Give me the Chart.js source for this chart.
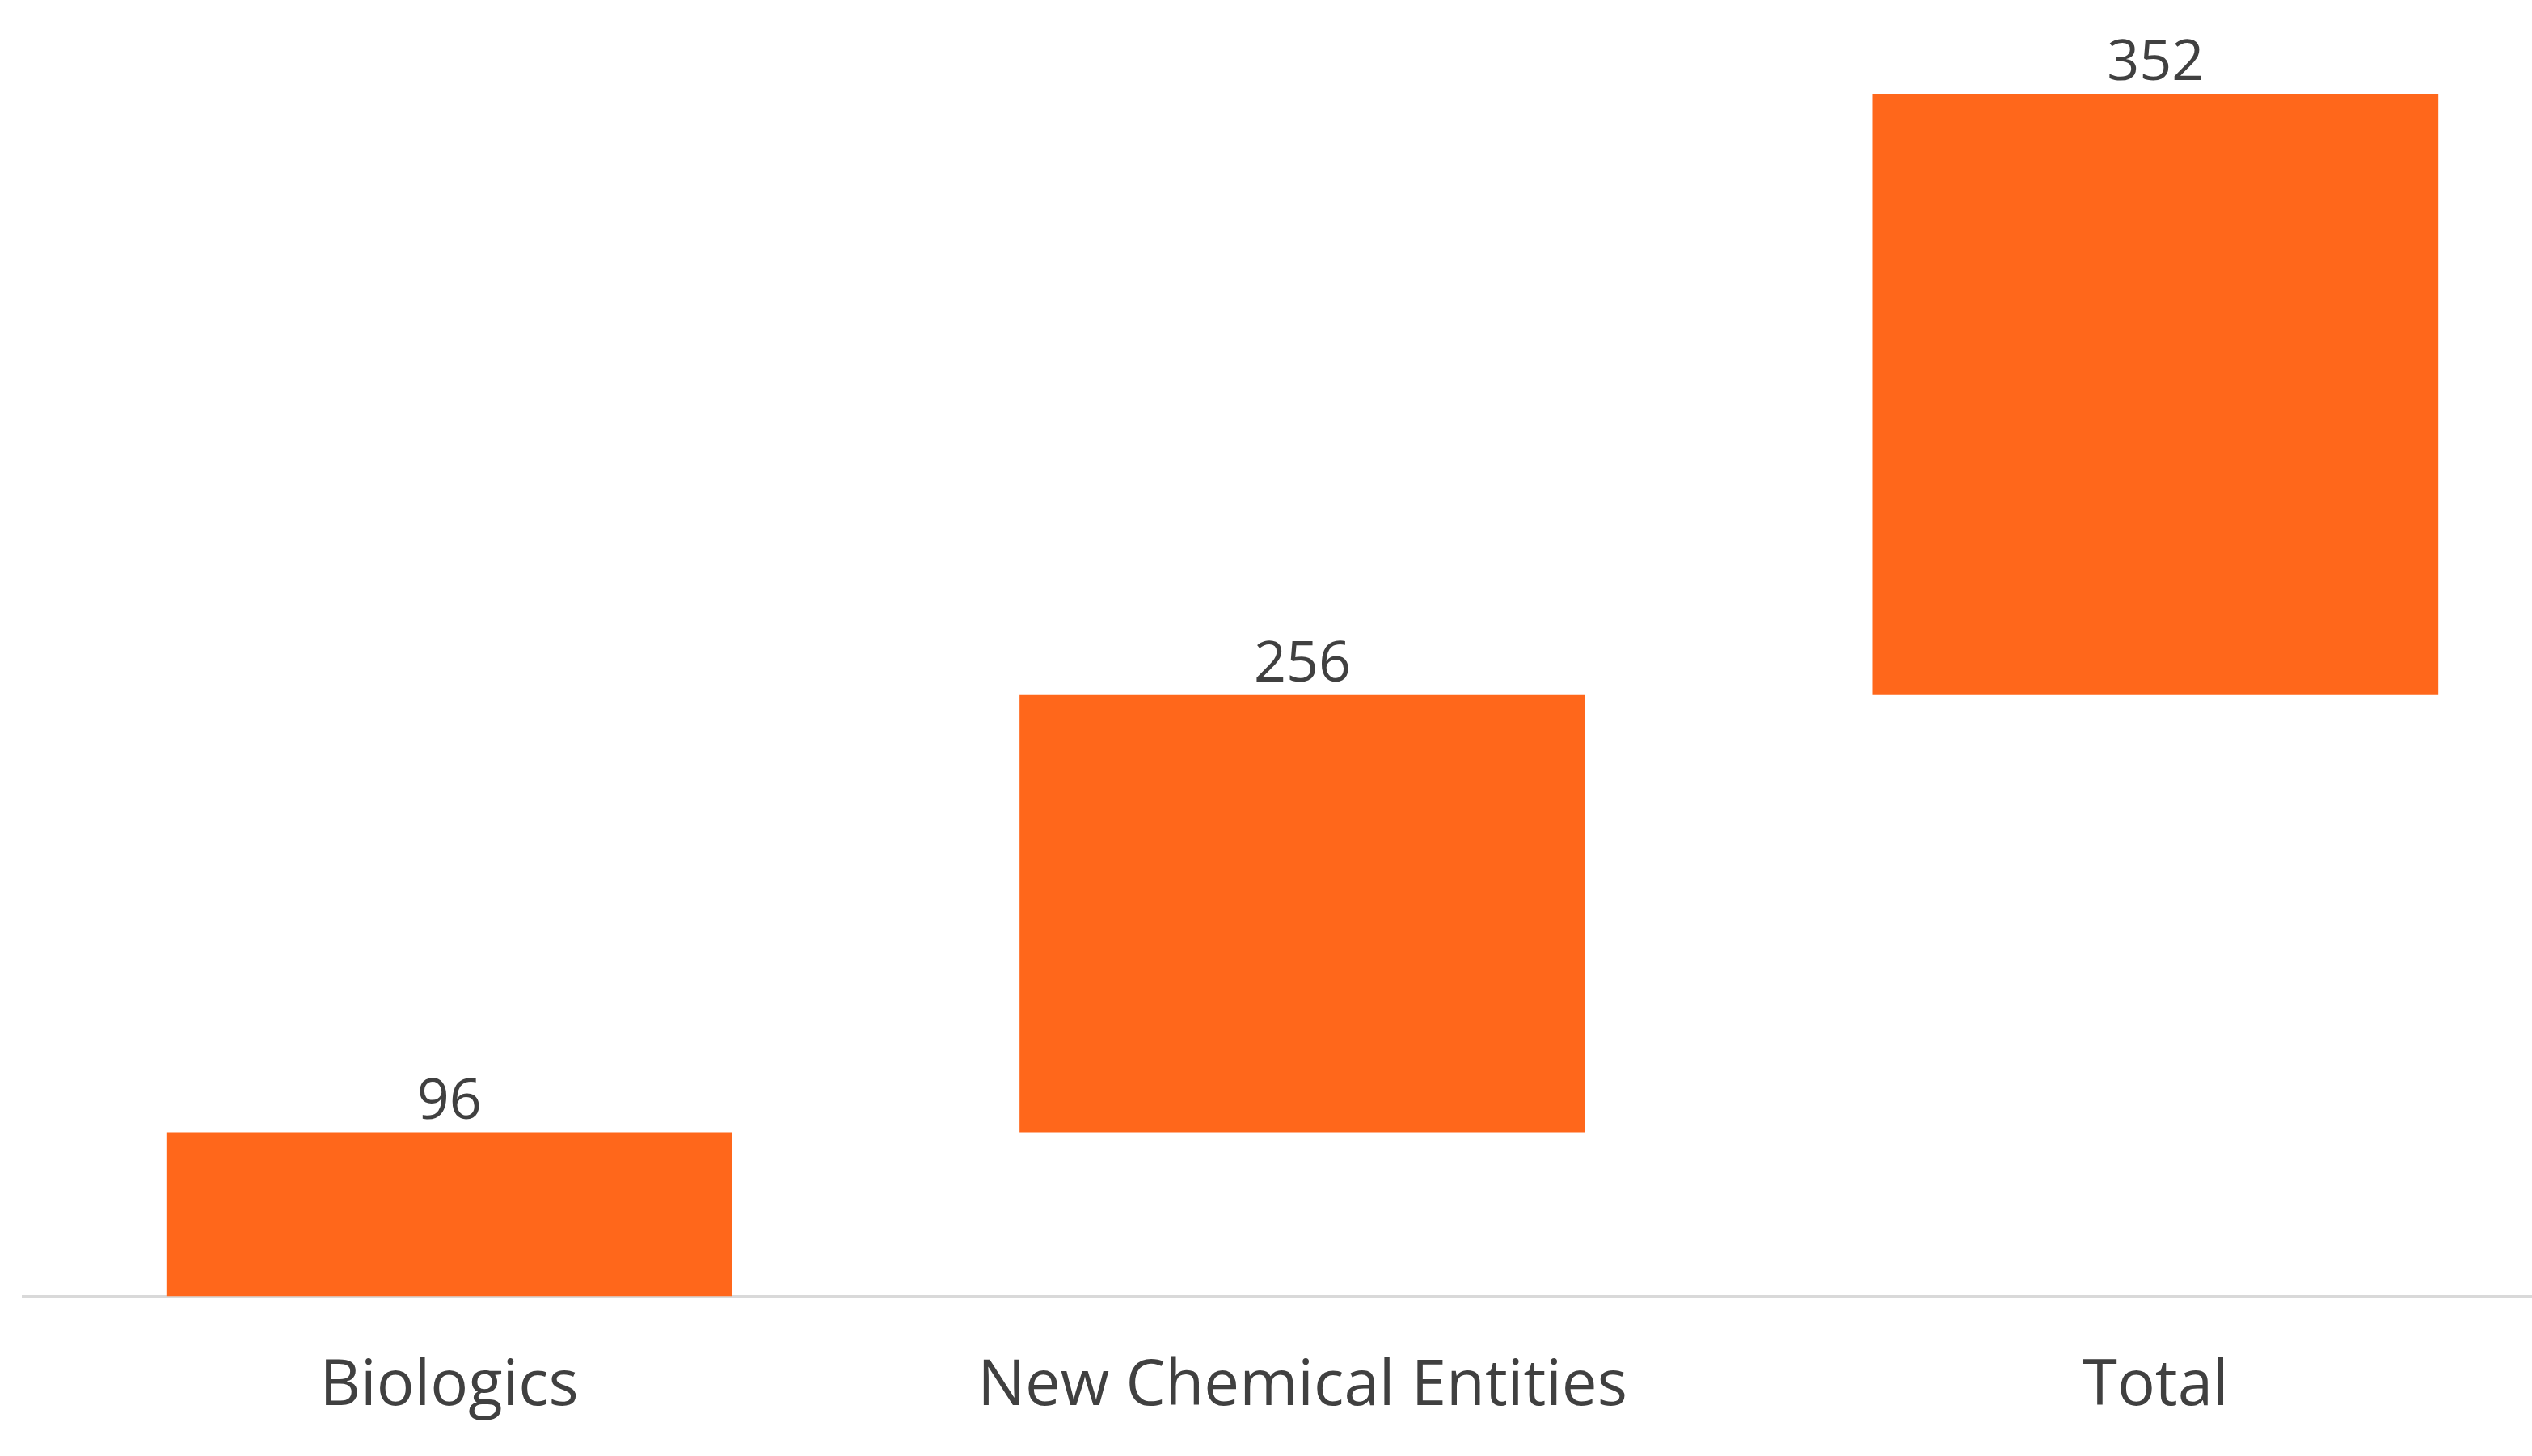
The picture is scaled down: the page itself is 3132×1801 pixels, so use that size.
<!DOCTYPE html>
<html>
<head>
<meta charset="utf-8">
<script src="https://cdn.jsdelivr.net/npm/chart.js@4"></script>
<style>
  html, body { margin: 0; padding: 0; background: #fff; overflow: hidden; }
  #wrap { width: 3194px; height: 1829px; }
</style>
</head>
<body>
<div id="wrap"><canvas id="grafico"></canvas></div>
<script>
// datos del gráfico
const categorias = ['Biologics', 'New Chemical Entities', 'Total'];
const valores = [96, 256, 352];
const inicios = [0, 96, 352];

const rangos = valores.map((v, i) => [inicios[i], inicios[i] + v]);

// etiquetas de valor encima de cada barra
const etiquetas = {
  id: 'etiquetas',
  afterDatasetsDraw(chart) {
    const ctx = chart.ctx;
    const meta = chart.getDatasetMeta(0);
    ctx.save();
    ctx.font = '70px "Open Sans", sans-serif';
    ctx.fillStyle = '#404040';
    ctx.textAlign = 'center';
    ctx.textBaseline = 'bottom';
    meta.data.forEach((bar, i) => {
      ctx.fillText(valores[i], bar.x, bar.y - 2);
    });
    ctx.restore();
  }
};

new Chart(document.getElementById('grafico'), {
  type: 'bar',
  data: {
    labels: categorias,
    datasets: [{
      data: rangos,
      backgroundColor: '#FF671B',
      categoryPercentage: 1,
      barPercentage: 0.663
    }]
  },
  options: {
    responsive: true,
    maintainAspectRatio: false,
    animation: false,
    layout: { padding: { left: 28, right: 0, top: 116, bottom: 0 } },
    plugins: { legend: { display: false }, tooltip: { enabled: false } },
    scales: {
      x: {
        grid: { display: false, drawTicks: false },
        border: { display: true, color: '#d9d9d9', width: 3 },
        ticks: { color: '#404040', font: { size: 78, family: '"Open Sans", sans-serif' }, padding: 66 }
      },
      y: {
        display: false,
        min: 0,
        max: 704
      }
    }
  },
  plugins: [etiquetas]
});
</script>
</body>
</html>
